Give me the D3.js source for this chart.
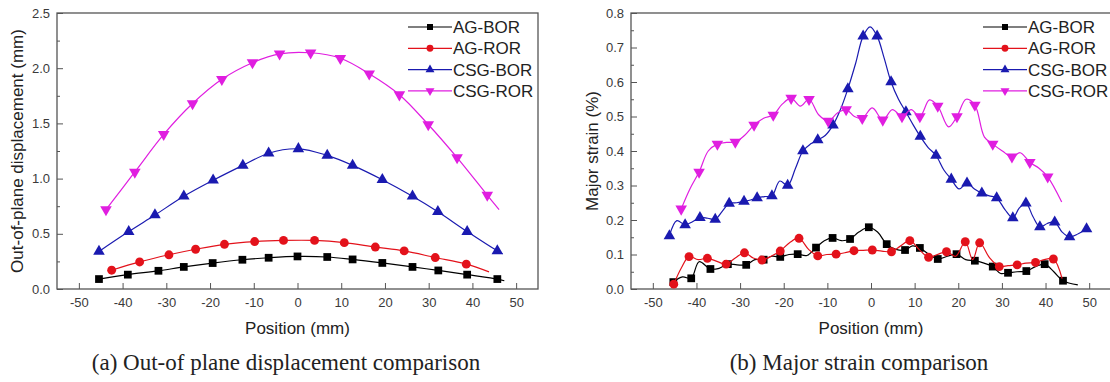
<!DOCTYPE html>
<html>
<head>
<meta charset="utf-8">
<script src="https://cdn.jsdelivr.net/npm/d3@7"></script>
<style>
  body { margin: 0; background: #fff; }
  svg { display: block; }
</style>
</head>
<body>
<svg id="chart" width="1110" height="382"></svg>
<script>
// Series names and colours (same for both panels)
var seriesNames = ['AG-BOR', 'AG-ROR', 'CSG-BOR', 'CSG-ROR'];
var seriesColors = ['#000000', '#e3121b', '#1a1ab0', '#e01ee0'];

// Tick labels
var xTicks = [-50, -40, -30, -20, -10, 0, 10, 20, 30, 40, 50];
var dispTicks = [0, 0.5, 1.0, 1.5, 2.0, 2.5];
var strainTicks = [0, 0.1, 0.2, 0.3, 0.4, 0.5, 0.6, 0.7, 0.8];

// (a) Out-of-plane displacement, [position mm, displacement mm]
var dispAgBor = [[-45.4, 0.09], [-38.8, 0.13], [-31.8, 0.165], [-26, 0.2], [-19.4, 0.235],
  [-12.6, 0.265], [-6.6, 0.283], [0, 0.295], [6.8, 0.29], [12.6, 0.268], [19.4, 0.236],
  [26.3, 0.2], [32.2, 0.168], [38.8, 0.13], [45.7, 0.09], [47.3, 0.075]];
var dispAgRor = [[-42.5, 0.17], [-36.1, 0.245], [-29.4, 0.31], [-23.3, 0.36], [-16.7, 0.405],
  [-9.8, 0.43], [-3.2, 0.44], [3.9, 0.44], [10.7, 0.42], [17.8, 0.38], [24.4, 0.345],
  [31.5, 0.285], [38.6, 0.225], [43.8, 0.155]];
var dispCsgBor = [[-45.4, 0.34], [-38.6, 0.52], [-32.6, 0.67], [-26, 0.84], [-19.3, 0.985],
  [-12.5, 1.12], [-6.6, 1.23], [0.2, 1.27], [6.8, 1.21], [12.6, 1.12], [19.4, 0.99],
  [26.3, 0.84], [32.1, 0.7], [38.8, 0.52], [45.7, 0.345], [46.9, 0.32]];
var dispCsgRor = [[-43.8, 0.72], [-37.2, 1.06], [-30.6, 1.4], [-24, 1.68], [-17.3, 1.9],
  [-10.3, 2.05], [-4.1, 2.13], [3, 2.14], [9.8, 2.09], [16.4, 1.95], [23.3, 1.76],
  [29.9, 1.49], [36.5, 1.19], [43.4, 0.85], [46.1, 0.72]];

// (b) Major strain, [position mm, strain %]
var strainAgBor = [[-45.3, 0.02], [-43.2, 0.035], [-41.2, 0.031], [-39.4, 0.079], [-36.8, 0.058],
  [-34.8, 0.06], [-32.8, 0.072], [-30.7, 0.07], [-28.6, 0.07], [-26.6, 0.085], [-24.6, 0.085],
  [-22.7, 0.095], [-20.8, 0.093], [-18.8, 0.1], [-16.8, 0.101], [-14.7, 0.097], [-12.6, 0.12],
  [-10.7, 0.14], [-8.8, 0.148], [-6.8, 0.14], [-4.8, 0.145], [-2.8, 0.165], [-0.5, 0.179],
  [1.5, 0.165], [3.6, 0.13], [5.7, 0.115], [7.8, 0.113], [9.5, 0.125], [11.2, 0.119],
  [13.3, 0.1], [15.3, 0.087], [17.5, 0.095], [19.6, 0.101], [21.7, 0.085], [23.8, 0.082],
  [25.9, 0.075], [27.9, 0.065], [29.7, 0.045], [31.4, 0.047], [33.5, 0.05], [35.6, 0.052],
  [37.7, 0.065], [39.8, 0.072], [41.9, 0.05], [44, 0.024], [47.4, 0.012]];
var strainAgRor = [[-45.2, 0.014], [-43.5, 0.06], [-41.7, 0.094], [-39.6, 0.085], [-37.5, 0.089],
  [-35.3, 0.08], [-33.2, 0.072], [-31.1, 0.09], [-29, 0.105], [-27, 0.09], [-25, 0.084],
  [-22.9, 0.095], [-20.8, 0.11], [-18.6, 0.135], [-16.5, 0.147], [-14.3, 0.115], [-12.2, 0.096],
  [-10.1, 0.1], [-8, 0.101], [-6, 0.105], [-3.9, 0.111], [-1.8, 0.112], [0.3, 0.113],
  [2.5, 0.11], [4.7, 0.108], [6.8, 0.125], [8.9, 0.14], [11, 0.115], [13.2, 0.092],
  [15.2, 0.1], [17.3, 0.108], [19.4, 0.095], [21.6, 0.137], [23.3, 0.085], [24.9, 0.134],
  [27.2, 0.09], [29.4, 0.065], [31.4, 0.068], [33.5, 0.07], [35.5, 0.075], [37.7, 0.077],
  [39.7, 0.085], [41.8, 0.087], [43.8, 0.03]];
var strainCsgBor = [[-46.2, 0.154], [-44.5, 0.198], [-42.6, 0.186], [-40.9, 0.195], [-39.2, 0.207],
  [-37.4, 0.205], [-35.7, 0.202], [-34.1, 0.225], [-32.5, 0.248], [-30.8, 0.25], [-29.1, 0.254],
  [-27.6, 0.258], [-26.1, 0.264], [-24.4, 0.268], [-22.7, 0.27], [-20.9, 0.313], [-19.1, 0.3],
  [-17.3, 0.35], [-15.6, 0.4], [-13.9, 0.42], [-12.2, 0.432], [-10.5, 0.445], [-8.7, 0.475],
  [-7, 0.52], [-5.3, 0.58], [-3.5, 0.655], [-1.8, 0.733], [-0.2, 0.76], [1.4, 0.733],
  [3, 0.67], [4.6, 0.6], [6.3, 0.55], [8, 0.513], [9.7, 0.475], [11.3, 0.442], [13.1, 0.41],
  [14.9, 0.387], [16.7, 0.345], [18.4, 0.318], [20.2, 0.29], [22, 0.307], [23.7, 0.29],
  [25.4, 0.278], [27.1, 0.27], [28.8, 0.264], [30.7, 0.23], [32.5, 0.206], [34, 0.235],
  [35.5, 0.249], [37.1, 0.21], [38.7, 0.18], [40.4, 0.19], [42.1, 0.194], [43.8, 0.165],
  [45.5, 0.151], [47.5, 0.16], [49.4, 0.174]];
var strainCsgRor = [[-43.5, 0.232], [-41.5, 0.29], [-39.4, 0.339], [-37.3, 0.4], [-35.2, 0.42],
  [-33.1, 0.425], [-31.1, 0.426], [-29, 0.445], [-26.8, 0.475], [-24.6, 0.495], [-22.4, 0.504],
  [-20.4, 0.535], [-18.3, 0.553], [-16.2, 0.53], [-14.2, 0.55], [-12, 0.505], [-9.8, 0.487],
  [-7.7, 0.51], [-5.7, 0.52], [-3.8, 0.5], [-2, 0.495], [0.3, 0.525], [2.7, 0.49],
  [4.9, 0.52], [7.1, 0.5], [9.2, 0.52], [11.2, 0.5], [13.4, 0.548], [15.3, 0.53],
  [17.8, 0.47], [19.7, 0.5], [21.8, 0.55], [23.8, 0.533], [26, 0.44], [27.9, 0.42],
  [30.1, 0.4], [32.3, 0.383], [34.2, 0.395], [36.4, 0.367], [38.5, 0.35], [40.5, 0.325],
  [43.7, 0.252]];

var svg = d3.select('#chart');

// Symbol for each series: square, circle, up triangle, down triangle
var symbolTypes = [d3.symbolSquare, d3.symbolCircle, d3.symbolTriangle, d3.symbolTriangle];
var symbolSizes = [60, 62, 58, 58];
var symbolRotate = [0, 0, 0, 180];

// Origin prints a plain hyphen for negative ticks, not the unicode minus
var xFormat = function(d) { return String(d); };

/**
 * Draws one panel: frame, ticks, curves, markers, legend and captions
 */
function drawPanel(cfg) {
  var x = d3.scaleLinear().domain([-55, 55]).range([cfg.left, cfg.right]);
  var y = d3.scaleLinear().domain(cfg.yDomain).range([cfg.bottom, cfg.top]);

  var g = svg.append('g');

  // Bottom axis with inward ticks
  g.append('g')
    .attr('transform', 'translate(0,' + cfg.bottom + ')')
    .call(d3.axisBottom(x).tickValues(xTicks).tickSizeInner(-6).tickSizeOuter(0)
      .tickPadding(9).tickFormat(xFormat));

  // Left axis, major and minor ticks
  g.append('g')
    .attr('transform', 'translate(' + cfg.left + ',0)')
    .call(d3.axisLeft(y).tickValues(cfg.yTicks).tickSizeInner(-6).tickSizeOuter(0)
      .tickPadding(7).tickFormat(d3.format('.1f')));

  g.append('g')
    .attr('transform', 'translate(' + cfg.left + ',0)')
    .call(d3.axisLeft(y).tickValues(cfg.yMinor).tickSizeInner(-3).tickSizeOuter(0)
      .tickFormat(''));

  g.selectAll('.domain').remove();
  g.selectAll('.tick line').attr('stroke', '#555').attr('stroke-width', 1);
  g.selectAll('.tick text')
    .attr('fill', '#3a3a3a')
    .style('font', '13px "Liberation Sans", Arial, sans-serif');

  // Frame around the plot area
  g.append('rect')
    .attr('x', cfg.left)
    .attr('y', cfg.top)
    .attr('width', cfg.right - cfg.left)
    .attr('height', cfg.bottom - cfg.top)
    .attr('fill', 'none')
    .attr('stroke', '#555')
    .attr('stroke-width', 1.3);

  var line = d3.line()
    .x(function(d) { return x(d[0]); })
    .y(function(d) { return y(d[1]); })
    .curve(d3.curveCatmullRom.alpha(0.5));

  cfg.series.forEach(function(data, s) {
    g.append('path')
      .datum(data)
      .attr('d', line)
      .attr('fill', 'none')
      .attr('stroke', seriesColors[s])
      .attr('stroke-width', 1.2);

    // Origin style: symbol on every n-th point, none on the trailing point(s)
    var marked = data.filter(function(d, i) {
      return i % cfg.markEvery === 0 && i < data.length - cfg.markTrail;
    });

    g.selectAll(null)
      .data(marked)
      .enter()
      .append('path')
      .attr('d', d3.symbol().type(symbolTypes[s]).size(symbolSizes[s]))
      .attr('transform', function(d) {
        return 'translate(' + x(d[0]) + ',' + y(d[1]) + ') rotate(' + symbolRotate[s] + ')';
      })
      .attr('fill', seriesColors[s]);
  });

  // Legend, no box
  var legend = g.append('g')
    .attr('transform', 'translate(' + cfg.legendX + ',' + cfg.legendY + ')');

  seriesNames.forEach(function(name, s) {
    var row = legend.append('g').attr('transform', 'translate(0,' + (s * 21.3) + ')');
    row.append('line')
      .attr('x1', 0).attr('x2', 44)
      .attr('stroke', seriesColors[s])
      .attr('stroke-width', 1.2);
    row.append('path')
      .attr('d', d3.symbol().type(symbolTypes[s]).size(symbolSizes[s] * 0.6))
      .attr('transform', 'translate(22,0) rotate(' + symbolRotate[s] + ')')
      .attr('fill', seriesColors[s]);
    row.append('text')
      .attr('x', 45)
      .attr('y', 6)
      .attr('fill', '#222')
      .style('font', '17px "Liberation Sans", Arial, sans-serif')
      .text(name);
  });

  // Axis titles
  g.append('text')
    .attr('x', x(0))
    .attr('y', 334)
    .attr('text-anchor', 'middle')
    .attr('fill', '#222')
    .style('font', '17px "Liberation Sans", Arial, sans-serif')
    .text('Position (mm)');

  g.append('text')
    .attr('transform', 'translate(' + cfg.yTitleX + ',' + ((cfg.top + cfg.bottom) / 2) + ') rotate(-90)')
    .attr('text-anchor', 'middle')
    .attr('dy', '0.35em')
    .attr('fill', '#222')
    .style('font', '17px "Liberation Sans", Arial, sans-serif')
    .text(cfg.yTitle);

  // Caption under the panel
  g.append('text')
    .attr('x', cfg.captionX)
    .attr('y', 370)
    .attr('text-anchor', 'middle')
    .attr('fill', '#222')
    .style('font', '23px "Liberation Serif", "Times New Roman", serif')
    .text(cfg.caption);
}

drawPanel({
  left: 57, right: 538, top: 13, bottom: 289,
  yDomain: [0, 2.5],
  yTicks: dispTicks,
  yMinor: [0.25, 0.75, 1.25, 1.75, 2.25],
  series: [dispAgBor, dispAgRor, dispCsgBor, dispCsgRor],
  markEvery: 1, markTrail: 1,
  legendX: 408, legendY: 27,
  yTitle: 'Out-of-plane displacement (mm)', yTitleX: 17,
  caption: '(a) Out-of plane displacement comparison', captionX: 286
});

drawPanel({
  left: 631, right: 1111, top: 13, bottom: 289,
  yDomain: [0, 0.8],
  yTicks: strainTicks,
  yMinor: [0.05, 0.15, 0.25, 0.35, 0.45, 0.55, 0.65, 0.75],
  series: [strainAgBor, strainAgRor, strainCsgBor, strainCsgRor],
  markEvery: 2, markTrail: 0,
  legendX: 983, legendY: 27,
  yTitle: 'Major strain (%)', yTitleX: 592,
  caption: '(b) Major strain comparison', captionX: 859
});
</script>
</body>
</html>
